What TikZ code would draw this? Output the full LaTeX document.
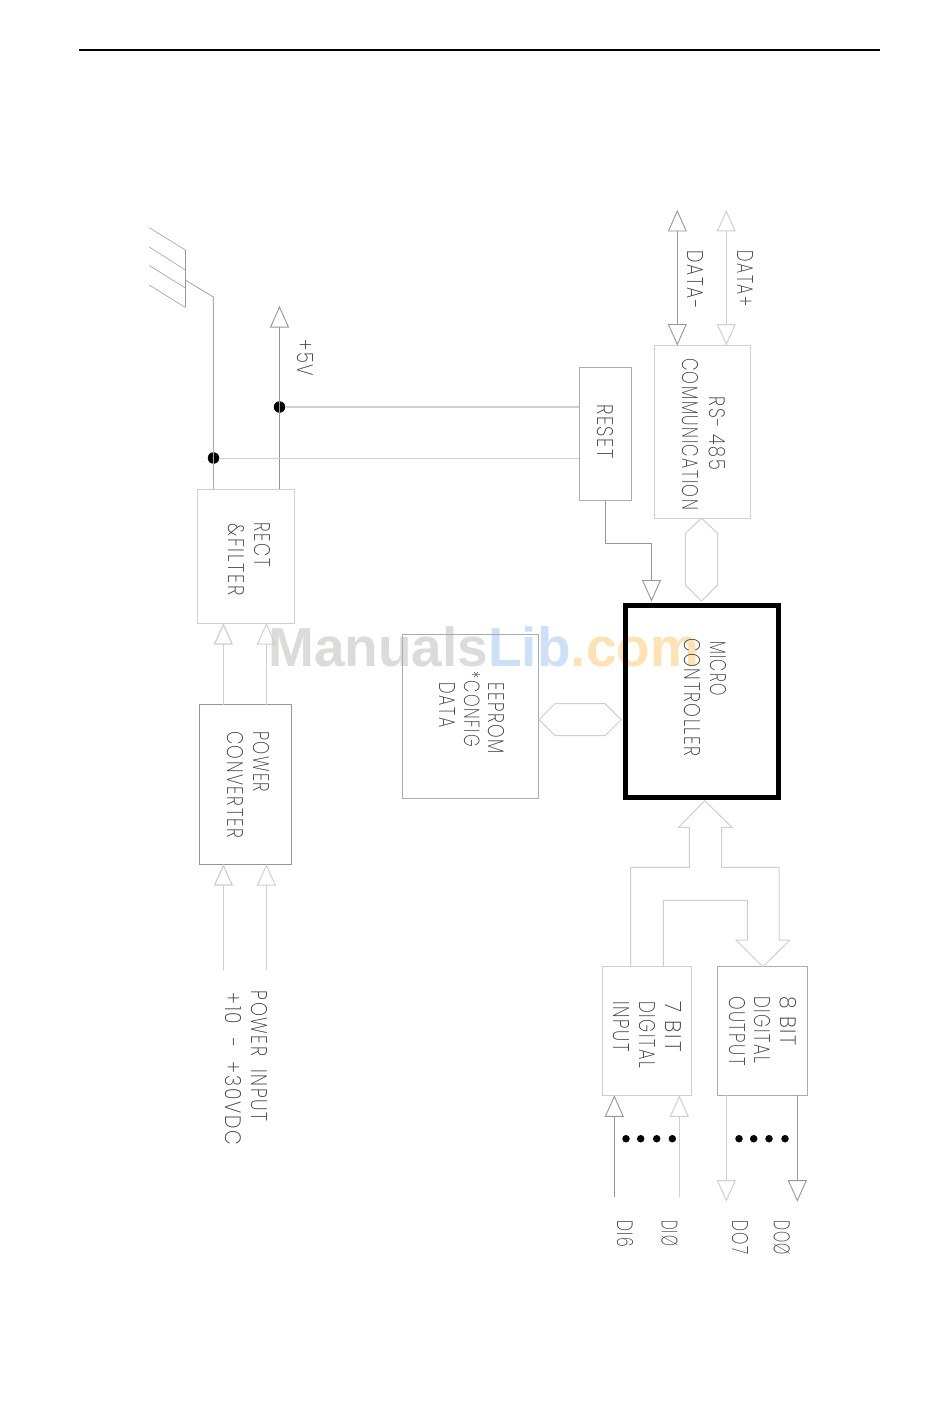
\documentclass[tikz,border=0pt]{standalone}
\usepackage{fontspec}
\usepackage{graphicx}
\usetikzlibrary{arrows.meta}
\setmainfont{Liberation Sans}
\newfontfamily\cad[LetterSpace=9]{Poppins ExtraLight}
\definecolor{lnd}{HTML}{969696}
\definecolor{lnm}{HTML}{ABABAB}
\definecolor{lnl}{HTML}{CFCFCF}
\definecolor{txt}{HTML}{3C3C3C}
\definecolor{wmg}{HTML}{DBDBD9}
\definecolor{wmb}{HTML}{CDE0F8}
\definecolor{wmo}{HTML}{FCE2B5}
\tikzset{
  dk/.style={draw=lnd,line width=0.9pt},
  md/.style={draw=lnm,line width=0.9pt},
  lt/.style={draw=lnl,line width=1pt},
  blk/.style={anchor=north west,inner sep=0pt,outer sep=0pt},
  tip/.tip={Triangle[open,length=21.5pt,width=19pt]},
  lab/.style={anchor=base west,rotate=-90,inner sep=0pt,outer sep=0pt,text=txt,yshift=1.5pt},
  jct/.style={circle,fill=black,inner sep=0pt,outer sep=0pt,minimum size=11.5pt},
  pip/.style={circle,fill=black,inner sep=0pt,outer sep=0pt,minimum size=7.5pt}
}
% name, baseline x, start y, run length, text
\newcommand{\tlab}[5]{\node[lab] (#1) at (#2,#3) {\resizebox{#4pt}{16pt}{\cad #5}};}
\begin{document}
\begin{tikzpicture}[x=1pt,y=-1pt]
\useasboundingbox (0,0) rectangle (950,1404);
\fill[white] (0,0) rectangle (950,1404);
% watermark
\node[anchor=base west,inner sep=0pt] (wm) at (268,666.7) {\fontsize{55pt}{55pt}\selectfont\bfseries\textcolor{wmg}{Manuals}\textcolor{wmb}{Lib}\textcolor{wmo}{.com}};
% top rule
\coordinate (ruleL) at (79,50);
\coordinate (ruleR) at (880,50);
\draw[black,line width=2pt] (ruleL) -- (ruleR);
% blocks
\node[blk,lt,minimum width=96.5pt,minimum height=134pt] (rect) at (197.5,489) {};
\node[blk,dk,minimum width=92pt,minimum height=159.5pt] (power) at (199,704.5) {};
\node[blk,md,minimum width=52.5pt,minimum height=133pt] (reset) at (579,367.5) {};
\node[blk,lt,minimum width=96.5pt,minimum height=172.5pt] (rs) at (654,345.5) {};
\node[blk,md,minimum width=136pt,minimum height=164pt] (eeprom) at (402.3,634.3) {};
\node[blk,draw=black,line width=5pt,minimum width=152.5pt,minimum height=192.5pt] (micro) at (625.5,605) {};
\node[blk,lt,minimum width=89.4pt,minimum height=128.6pt] (din) at (602.3,966.7) {};
\node[blk,md,minimum width=90pt,minimum height=128.6pt] (dout) at (717.7,966.7) {};
% labels
\tlab{tRect}{252.7}{522.7}{44}{RECT}
\tlab{tFilter}{227.3}{523.7}{72}{\&FILTER}
\tlab{tPlus}{295.7}{339.3}{36.7}{+5V}
\tlab{tPower}{251.7}{731}{61.3}{POWER}
\tlab{tConv}{225.7}{731}{107}{CONVERTER}
\tlab{tPin}{250}{990.7}{131}{POWER\ \ INPUT}
\tlab{tVdc}{224.3}{992.7}{152.3}{+10\ \ -\ \ +30VDC}
\tlab{tDm}{686}{251}{58}{DATA-}
\tlab{tDp}{735.7}{251}{55.7}{DATA+}
\tlab{tRs}{708.3}{396.7}{73.3}{RS-\ 485}
\tlab{tCom}{680.7}{358}{152}{COMMUNICATION}
\tlab{tReset}{595.7}{404}{55}{RESET}
\tlab{tMicro}{708.5}{641}{55}{MICRO}
\tlab{tCtrl}{683.3}{638.5}{118.2}{CONTROLLER}
\tlab{tEe}{487.3}{682.3}{71.7}{EEPROM}
\tlab{tCfg}{462.7}{671.7}{75}{*CONFIG}
\tlab{tData}{437.7}{682.7}{44.6}{DATA}
\tlab{tSeven}{664}{1001.7}{50}{7\ BIT}
\tlab{tDig}{638.3}{1001.7}{66.3}{DIGITAL}
\tlab{tIn}{611.7}{1001.7}{50.3}{INPUT}
\tlab{tEight}{779.3}{996}{50}{8\ BIT}
\tlab{tDigb}{753.3}{996}{67}{DIGITAL}
\tlab{tOut}{727.7}{996}{70}{OUTPUT}
\tlab{tDi}{615.7}{1220}{26.7}{DI6}
\tlab{tDz}{660}{1220}{26}{DIØ}
\tlab{tDo}{730.7}{1220}{34.3}{DO7}
\tlab{tDy}{772.3}{1220}{35}{DOØ}
% ground symbol
\coordinate (gA) at (185.3,250);
\coordinate (gB) at (185.3,307.5);
\coordinate (gFeed) at (185.3,280);
\coordinate (gBend) at (213.3,297);
\draw[dk,line width=0.7pt] (gA) -- (gB);
\draw[md,line width=0.7pt] (149.3,227.7) -- (gA);
\draw[md,line width=0.7pt] (149.3,247) -- (185.3,270);
\draw[md,line width=0.7pt] (149.3,265.5) -- (185.3,288);
\draw[md,line width=0.7pt] (149.3,285) -- (gB);
% junctions and rails
\node[jct] (jg) at (213.5,458) {};
\node[jct] (jv) at (279.5,407) {};
\coordinate (vTip) at (279.5,306);
\draw[md] (gFeed) -- (gBend) -- (gBend |- jg.center) -- (jg.center |- rect.north);
\draw[dk,-tip] (jv.center |- rect.north) -- (vTip);
\draw[lt,line width=1.2pt] (jv) -- (jv -| reset.west);
\draw[lt] (jg) -- (jg -| reset.west);
% power arrows
\coordinate (pa) at (223.4,970);
\coordinate (pb) at (266.4,970);
\draw[lt,line width=1.2pt,-tip] (pa) -- (pa |- power.south);
\draw[lt,-tip] (pb) -- (pb |- power.south);
\draw[lt,line width=1.2pt,-tip] (pa |- power.north) -- (pa |- rect.south);
\draw[lt,-tip] (pb |- power.north) -- (pb |- rect.south);
% RS-485 lines
\coordinate (dm) at (677.3,210);
\coordinate (dp) at (726.3,210);
\draw[dk,tip-tip] (dm) -- (dm |- rs.north);
\draw[lt,tip-tip] (dp) -- (dp |- rs.north);
% reset to micro
\coordinate (rOut) at (605.5,543);
\coordinate (rIn) at (651.5,543);
\coordinate (rTip) at (651.5,601.5);
\draw[dk,-tip] (rOut |- reset.south) -- (rOut) -- (rIn) -- (rTip);
% hexagon buses
\draw[lt] (701.5,518.3) -- (717.7,533.3) -- (717.7,585) -- (701.5,601) -- (685.3,585) -- (685.3,533.3) -- cycle;
\draw[lt] (539,719.7) -- (555,703.7) -- (605,703.7) -- (621,719.7) -- (605,735.7) -- (555,735.7) -- cycle;
% digital bus
\draw[lt] (630.7,966.7) -- (630.7,867.3) -- (689.3,867.3) -- (689.3,827.3) -- (678.7,827.3) -- (704.7,800.7) -- (732,827.3) -- (721.7,827.3) -- (721.7,867.3) -- (779,867.3) -- (779,940) -- (790,940) -- (763,966.7) -- (736,940) -- (747.3,940) -- (747.3,900.3) -- (663.3,900.3) -- (663.3,966.7);
% digital i/o arrows
\coordinate (ia) at (614.3,1196.7);
\coordinate (ib) at (679.3,1196.7);
\coordinate (oa) at (726.3,1201.7);
\coordinate (ob) at (797.3,1201.7);
\draw[dk,-tip] (ia) -- (ia |- din.south);
\draw[lt,-tip] (ib) -- (ib |- din.south);
\draw[lt,-tip] (oa |- dout.south) -- (oa);
\draw[dk,-tip] (ob |- dout.south) -- (ob);
% pips
\node[pip] (p1) at (626,1138.7) {};
\node[pip] (p2) at (640.7,1138.7) {};
\node[pip] (p3) at (656.7,1138.7) {};
\node[pip] (p4) at (672.3,1138.7) {};
\node[pip] (q1) at (739,1138.7) {};
\node[pip] (q2) at (753.7,1138.7) {};
\node[pip] (q3) at (769,1138.7) {};
\node[pip] (q4) at (785,1138.7) {};
\end{tikzpicture}
\end{document}
